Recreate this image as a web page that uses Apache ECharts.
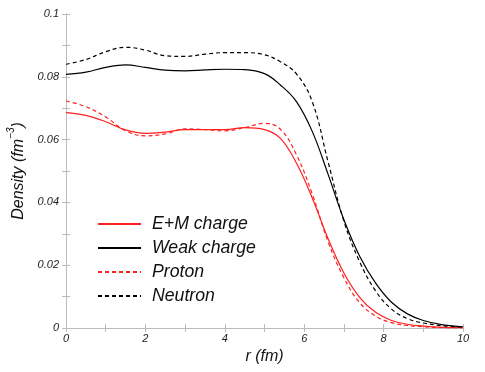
<!DOCTYPE html>
<html>
<head>
<meta charset="utf-8">
<script src="https://cdn.jsdelivr.net/npm/echarts@6/dist/echarts.min.js"></script>
<style>
html, body { margin: 0; padding: 0; background: #fff; }
#chart { width: 485px; height: 372px; }
</style>
</head>
<body>
<div id="chart"></div>
<script>
// radius in fm
var rValues = [0, 0.5, 1, 1.5, 2, 2.5, 3, 3.5, 4, 4.5, 5, 5.4, 5.8, 6.2, 6.6, 7.0, 7.4, 7.8, 8.2, 8.6, 9.0, 9.5, 10];
// densities in fm^-3
var emCharge = [0.0686, 0.0677, 0.0657, 0.0631, 0.0620, 0.0624, 0.0632, 0.0632, 0.0632, 0.0638, 0.0632, 0.0604, 0.0526, 0.0415, 0.0285, 0.0175, 0.0097, 0.0050, 0.0024, 0.0012, 0.0006, 0.0002, 0.0001];
var weakCharge = [0.0808, 0.0815, 0.0830, 0.0838, 0.0830, 0.0821, 0.0819, 0.0822, 0.0824, 0.0823, 0.0810, 0.0774, 0.0722, 0.0627, 0.0490, 0.0345, 0.0228, 0.0143, 0.0082, 0.0045, 0.0024, 0.0010, 0.0004];
var proton = [0.0723, 0.0705, 0.0672, 0.0628, 0.0612, 0.0618, 0.0634, 0.0632, 0.0628, 0.0638, 0.0652, 0.0633, 0.0553, 0.0428, 0.0275, 0.0160, 0.0080, 0.0038, 0.0017, 0.0008, 0.0004, 0.0001, 0.0000];
var neutron = [0.0840, 0.0855, 0.0880, 0.0894, 0.0885, 0.0867, 0.0865, 0.0872, 0.0877, 0.0877, 0.0870, 0.0848, 0.0810, 0.0722, 0.0530, 0.0340, 0.0210, 0.0118, 0.0060, 0.0030, 0.0016, 0.0007, 0.0003];
var seriesNames = ['E+M charge', 'Weak charge', 'Proton', 'Neutron'];

function pairs(ys) {
    var out = [];
    for (var i = 0; i < rValues.length; i++) {
        out.push([rValues[i], ys[i]]);
    }
    return out;
}

function makeLine(name, ys, color, type) {
    return {
        name: name,
        type: 'line',
        data: pairs(ys),
        smooth: 0.4,
        symbol: 'none',
        xAxisIndex: 0,
        yAxisIndex: 0,
        itemStyle: {color: color},
        lineStyle: {color: color, width: 1.2, type: type}
    };
}

var axisGray = '#bbbbbb';
var fontName = 'Liberation Sans';

// every tick inside the frame, labels only on every other tick
function frameAxis(extra) {
    var ax = {
        axisLine: {show: true, lineStyle: {color: axisGray}},
        axisTick: {show: true, inside: true, length: 4, lineStyle: {color: axisGray}},
        splitLine: {show: false}
    };
    for (var k in extra) {
        ax[k] = extra[k];
    }
    return ax;
}

var ech = echarts.init(document.getElementById('chart'));
var option = {
    animation: false,
    backgroundColor: '#fff',
    grid: {left: 66, right: 22, top: 14, bottom: 44, containLabel: false, outerBoundsMode: 'none'},
    legend: {
        orient: 'vertical',
        left: 97,
        top: 215,
        padding: 0,
        itemWidth: 43,
        itemHeight: 14,
        itemGap: 6,
        data: seriesNames,
        itemStyle: {opacity: 0},
        textStyle: {fontStyle: 'italic', fontSize: 17.7, lineHeight: 18, color: '#111', fontFamily: fontName, padding: [0, 0, 0, 6]}
    },
    xAxis: [
        frameAxis({
            type: 'value', min: 0, max: 10, interval: 1, position: 'bottom',
            axisLabel: {
                fontStyle: 'italic', fontSize: 11, color: '#222', fontFamily: fontName, margin: 5,
                formatter: function (v) { return v % 2 === 0 ? String(v) : ''; }
            },
            name: 'r (fm)', nameLocation: 'middle', nameGap: 13,
            nameTextStyle: {fontStyle: 'italic', fontSize: 16, color: '#111', fontFamily: fontName}
        }),
        frameAxis({
            type: 'value', min: 0, max: 10, interval: 1, position: 'top',
            axisLabel: {show: false}
        })
    ],
    yAxis: [
        frameAxis({
            type: 'value', min: 0, max: 0.1, interval: 0.01, position: 'left',
            axisLabel: {
                fontStyle: 'italic', fontSize: 11, color: '#222', fontFamily: fontName, margin: 7,
                formatter: function (v) {
                    var k = Math.round(v * 100);
                    if (k % 2 !== 0) return '';
                    return k === 0 ? '0' : String(k / 100);
                }
            },
            name: '{n|Density (fm}{s|−3}{n|)}', nameLocation: 'middle', nameGap: 26,
            nameTextStyle: {
                rich: {
                    n: {fontStyle: 'italic', fontSize: 16, color: '#111', fontFamily: fontName, lineHeight: 20, verticalAlign: 'bottom'},
                    s: {fontStyle: 'italic', fontSize: 10, color: '#111', fontFamily: fontName, lineHeight: 20, verticalAlign: 'top'}
                }
            }
        }),
        frameAxis({
            type: 'value', min: 0, max: 0.1, interval: 0.01, position: 'right',
            axisLabel: {show: false}
        })
    ],
    series: [
        makeLine(seriesNames[0], emCharge, '#ff2020', 'solid'),
        makeLine(seriesNames[1], weakCharge, '#000000', 'solid'),
        makeLine(seriesNames[2], proton, '#ff2020', [4, 3]),
        makeLine(seriesNames[3], neutron, '#000000', [4, 3])
    ]
};
ech.setOption(option);
</script>
</body>
</html>
